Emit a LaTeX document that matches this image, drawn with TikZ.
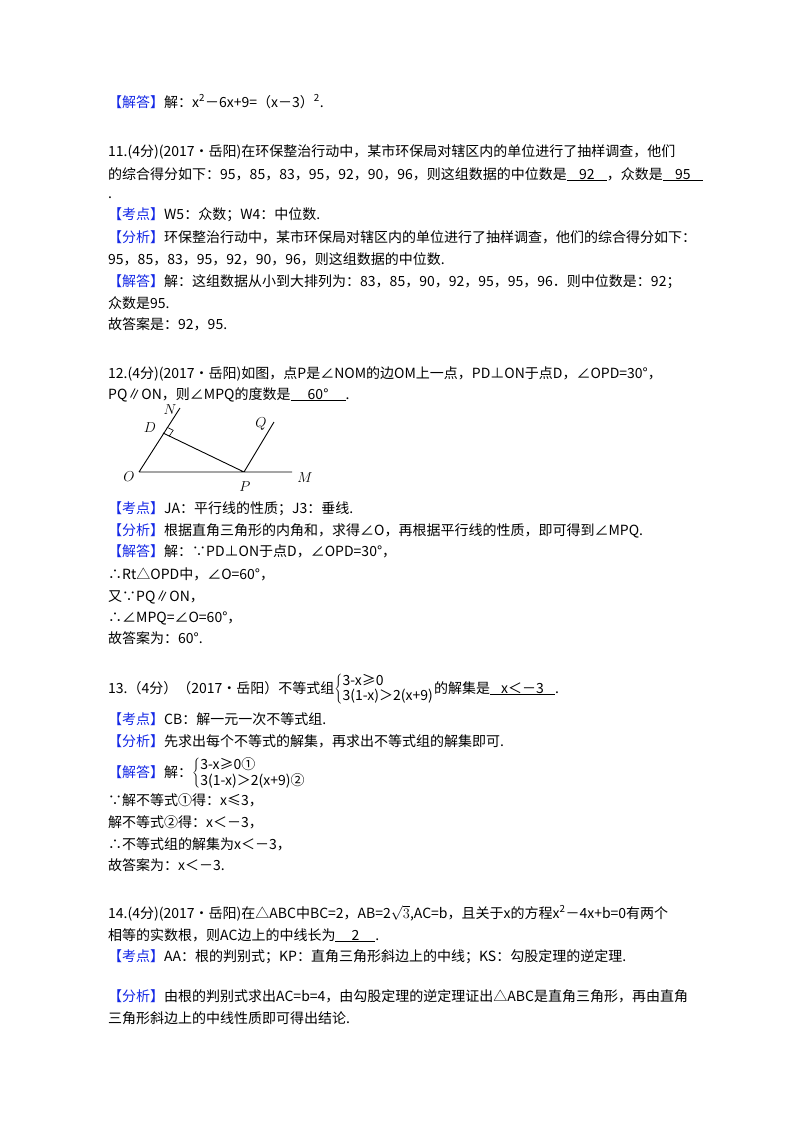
\documentclass[tikz,border=0pt]{standalone}
\usepackage{fontspec}
\usetikzlibrary{calc}
\setmainfont{Noto Sans CJK SC}
\definecolor{kb}{RGB}{20,40,230}
\newcommand{\kd}[1]{{\color{kb}【#1】}}
\newcommand{\ulx}[2]{\underline{\makebox[#1][c]{#2}}}
\newcommand{\sysx}[2]{$\left\{\renewcommand{\arraystretch}{0.85}\begin{tabular}{@{}l@{}}#1\\#2\end{tabular}\right.$}
\tikzset{tl/.style={anchor=base west,inner sep=0pt,font=\fontsize{14}{16.5}\selectfont},
lab/.style={font=\fontsize{14}{15}\selectfont,inner sep=0pt},
ln/.style={line width=0.9pt}}
\begin{document}
\begin{tikzpicture}[x=1pt,y=-1pt]
\useasboundingbox[fill=white] (0,0) rectangle (800,1132);
\node[tl] (l1) at (108,107) {\kd{解答}解：x\textsuperscript{2}－6x+9=（x－3）\textsuperscript{2}.};
\node[tl] (l2) at (108,156) {11.(4分)(2017•岳阳)在环保整治行动中，某市环保局对辖区内的单位进行了抽样调查，他们};
\node[tl] (l3) at (108,179) {的综合得分如下：95，85，83，95，92，90，96，则这组数据的中位数是\ulx{40pt}{92}，众数是\ulx{40pt}{95}};
\node[tl] (l4) at (108,198) {.};
\node[tl] (l5) at (108,219) {\kd{考点}W5：众数；W4：中位数.};
\node[tl] (l6) at (108,242) {\kd{分析}环保整治行动中，某市环保局对辖区内的单位进行了抽样调查，他们的综合得分如下：};
\node[tl] (l7) at (108,264) {95，85，83，95，92，90，96，则这组数据的中位数.};
\node[tl] (l8) at (108,286) {\kd{解答}解：这组数据从小到大排列为：83，85，90，92，95，95，96．则中位数是：92；};
\node[tl] (l9) at (108,308) {众数是95.};
\node[tl] (l10) at (108,329) {故答案是：92，95.};
\node[tl] (l11) at (108,378) {12.(4分)(2017•岳阳)如图，点P是∠NOM的边OM上一点，PD⊥ON于点D，∠OPD=30°，};
\node[tl] (l12) at (108,399) {PQ∥ON，则∠MPQ的度数是\ulx{55pt}{60°}.};
% figure
\coordinate (O) at (139,472);
\coordinate (M) at (292,472);
\coordinate (N) at (180,408);
\coordinate (P) at (244,472);
\coordinate (Q) at (274,422);
\coordinate (D) at (163,433);
\draw[ln] (O)--(M) (O)--(N) (P)--(Q) (D)--(P);
\draw[line width=0.6pt] ($(D)!7pt!(P)$) -- ($(D)!7pt!(P)+(D)!7pt!(N)-(D)$) -- ($(D)!7pt!(N)$);
\node[lab] (tN) at (170,410) {$N$};
\node[lab] (tD) at (150,428) {$D$};
\node[lab] (tQ) at (261,424) {$Q$};
\node[lab] (tO) at (129,477) {$O$};
\node[lab] (tM) at (305,478) {$M$};
\node[lab] (tP) at (245,487) {$P$};
\node[tl] (l13) at (108,513) {\kd{考点}JA：平行线的性质；J3：垂线.};
\node[tl] (l14) at (108,535) {\kd{分析}根据直角三角形的内角和，求得∠O，再根据平行线的性质，即可得到∠MPQ.};
\node[tl] (l15) at (108,556) {\kd{解答}解：∵PD⊥ON于点D，∠OPD=30°，};
\node[tl] (l16) at (108,579) {∴Rt△OPD中，∠O=60°，};
\node[tl] (l17) at (108,601) {又∵PQ∥ON，};
\node[tl] (l18) at (108,622) {∴∠MPQ=∠O=60°，};
\node[tl] (l19) at (108,643) {故答案为：60°.};
\node[tl] (l20) at (108,693) {13.（4分）（2017•岳阳）不等式组\sysx{3-x≥0}{3(1-x)＞2(x+9)}的解集是\ulx{65pt}{x＜－3}.};
\node[tl] (l21) at (108,724) {\kd{考点}CB：解一元一次不等式组.};
\node[tl] (l22) at (108,746) {\kd{分析}先求出每个不等式的解集，再求出不等式组的解集即可.};
\node[tl] (l23) at (108,777) {\kd{解答}解：\sysx{3-x≥0①}{3(1-x)＞2(x+9)②}};
\node[tl] (l24) at (108,805) {∵解不等式①得：x≤3，};
\node[tl] (l25) at (108,827) {解不等式②得：x＜－3，};
\node[tl] (l26) at (108,849) {∴不等式组的解集为x＜－3，};
\node[tl] (l27) at (108,870) {故答案为：x＜－3.};
\node[tl] (l28) at (108,918) {14.(4分)(2017•岳阳)在△ABC中BC=2，AB=2$\sqrt{3}$,AC=b，且关于x的方程x\textsuperscript{2}－4x+b=0有两个};
\node[tl] (l29) at (108,940) {相等的实数根，则AC边上的中线长为\ulx{40pt}{2}.};
\node[tl] (l30) at (108,961) {\kd{考点}AA：根的判别式；KP：直角三角形斜边上的中线；KS：勾股定理的逆定理.};
\node[tl] (l31) at (108,1001) {\kd{分析}由根的判别式求出AC=b=4，由勾股定理的逆定理证出△ABC是直角三角形，再由直角};
\node[tl] (l32) at (108,1023) {三角形斜边上的中线性质即可得出结论.};
\end{tikzpicture}
\end{document}
